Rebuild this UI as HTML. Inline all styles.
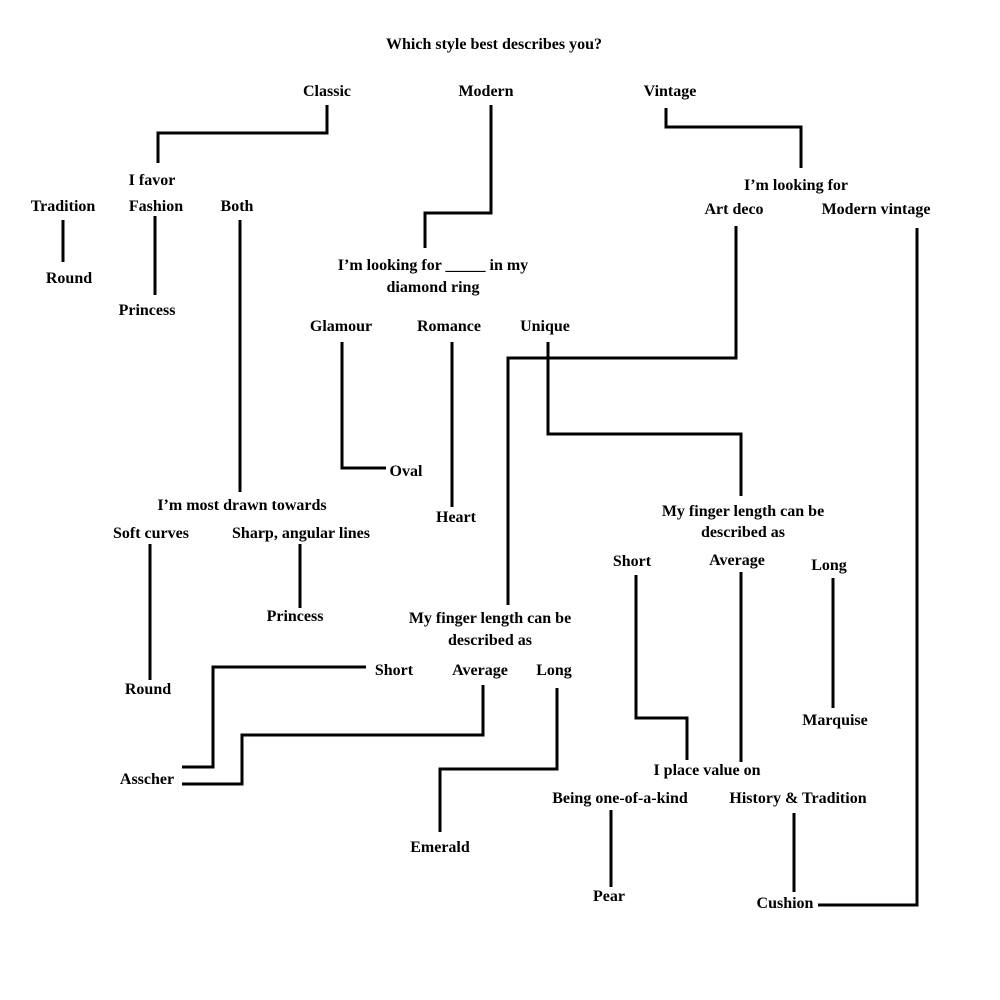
<!DOCTYPE html>
<html><head><meta charset="utf-8"><style>
html,body{margin:0;padding:0;background:#fff;}
svg{display:block;}
text{font-family:"Liberation Serif",serif;font-weight:bold;font-size:16px;fill:#000;text-anchor:middle;}
</style></head><body>
<svg width="1000" height="1000" viewBox="0 0 1000 1000" xmlns="http://www.w3.org/2000/svg">
<rect width="1000" height="1000" fill="#fff"/>
<g fill="none" stroke="#000" stroke-width="3">
<polyline points="327,105 327,133 158,133 158,163"/>
<polyline points="491,105 491,213 425,213 425,248"/>
<polyline points="666,108 666,127 801,127 801,168"/>
<polyline points="63,220 63,262"/>
<polyline points="155,216 155,295"/>
<polyline points="240,220 240,492"/>
<polyline points="736,226 736,358 508,358 508,605"/>
<polyline points="917,228 917,905 818,905"/>
<polyline points="342,342 342,468 386,468"/>
<polyline points="452,342 452,507"/>
<polyline points="548,342 548,434 741,434 741,496"/>
<polyline points="150,544 150,680"/>
<polyline points="300,544 300,608"/>
<polyline points="366,667 213,667 213,767 182,767"/>
<polyline points="483,685 483,735 242,735 242,784 182,784"/>
<polyline points="557,688 557,769 440,769 440,832"/>
<polyline points="636,575 636,718 687,718 687,760"/>
<polyline points="741,572 741,762"/>
<polyline points="833,578 833,708"/>
<polyline points="611,810 611,887"/>
<polyline points="794,813 794,892"/>
</g>
<text x="494" y="49">Which style best describes you?</text>
<text x="327" y="96">Classic</text>
<text x="486" y="96">Modern</text>
<text x="670" y="96">Vintage</text>
<text x="152" y="185">I favor</text>
<text x="63" y="211">Tradition</text>
<text x="156" y="211">Fashion</text>
<text x="237" y="211">Both</text>
<text x="69" y="283">Round</text>
<text x="147" y="315">Princess</text>
<text x="796" y="190">I’m looking for</text>
<text x="734" y="214">Art deco</text>
<text x="876" y="214">Modern vintage</text>
<text x="433" y="270">I’m looking for _____ in my</text>
<text x="433" y="292">diamond ring</text>
<text x="341" y="331">Glamour</text>
<text x="449" y="331">Romance</text>
<text x="545" y="331">Unique</text>
<text x="406" y="476">Oval</text>
<text x="456" y="522">Heart</text>
<text x="242" y="510">I’m most drawn towards</text>
<text x="151" y="538">Soft curves</text>
<text x="301" y="538">Sharp, angular lines</text>
<text x="295" y="621">Princess</text>
<text x="148" y="694">Round</text>
<text x="490" y="623">My finger length can be</text>
<text x="490" y="645">described as</text>
<text x="394" y="675">Short</text>
<text x="480" y="675">Average</text>
<text x="554" y="675">Long</text>
<text x="147" y="784">Asscher</text>
<text x="440" y="852">Emerald</text>
<text x="743" y="516">My finger length can be</text>
<text x="743" y="537">described as</text>
<text x="632" y="566">Short</text>
<text x="737" y="565">Average</text>
<text x="829" y="570">Long</text>
<text x="835" y="725">Marquise</text>
<text x="707" y="775">I place value on</text>
<text x="620" y="803">Being one-of-a-kind</text>
<text x="798" y="803">History &amp; Tradition</text>
<text x="609" y="901">Pear</text>
<text x="785" y="908">Cushion</text>
</svg>
</body></html>
